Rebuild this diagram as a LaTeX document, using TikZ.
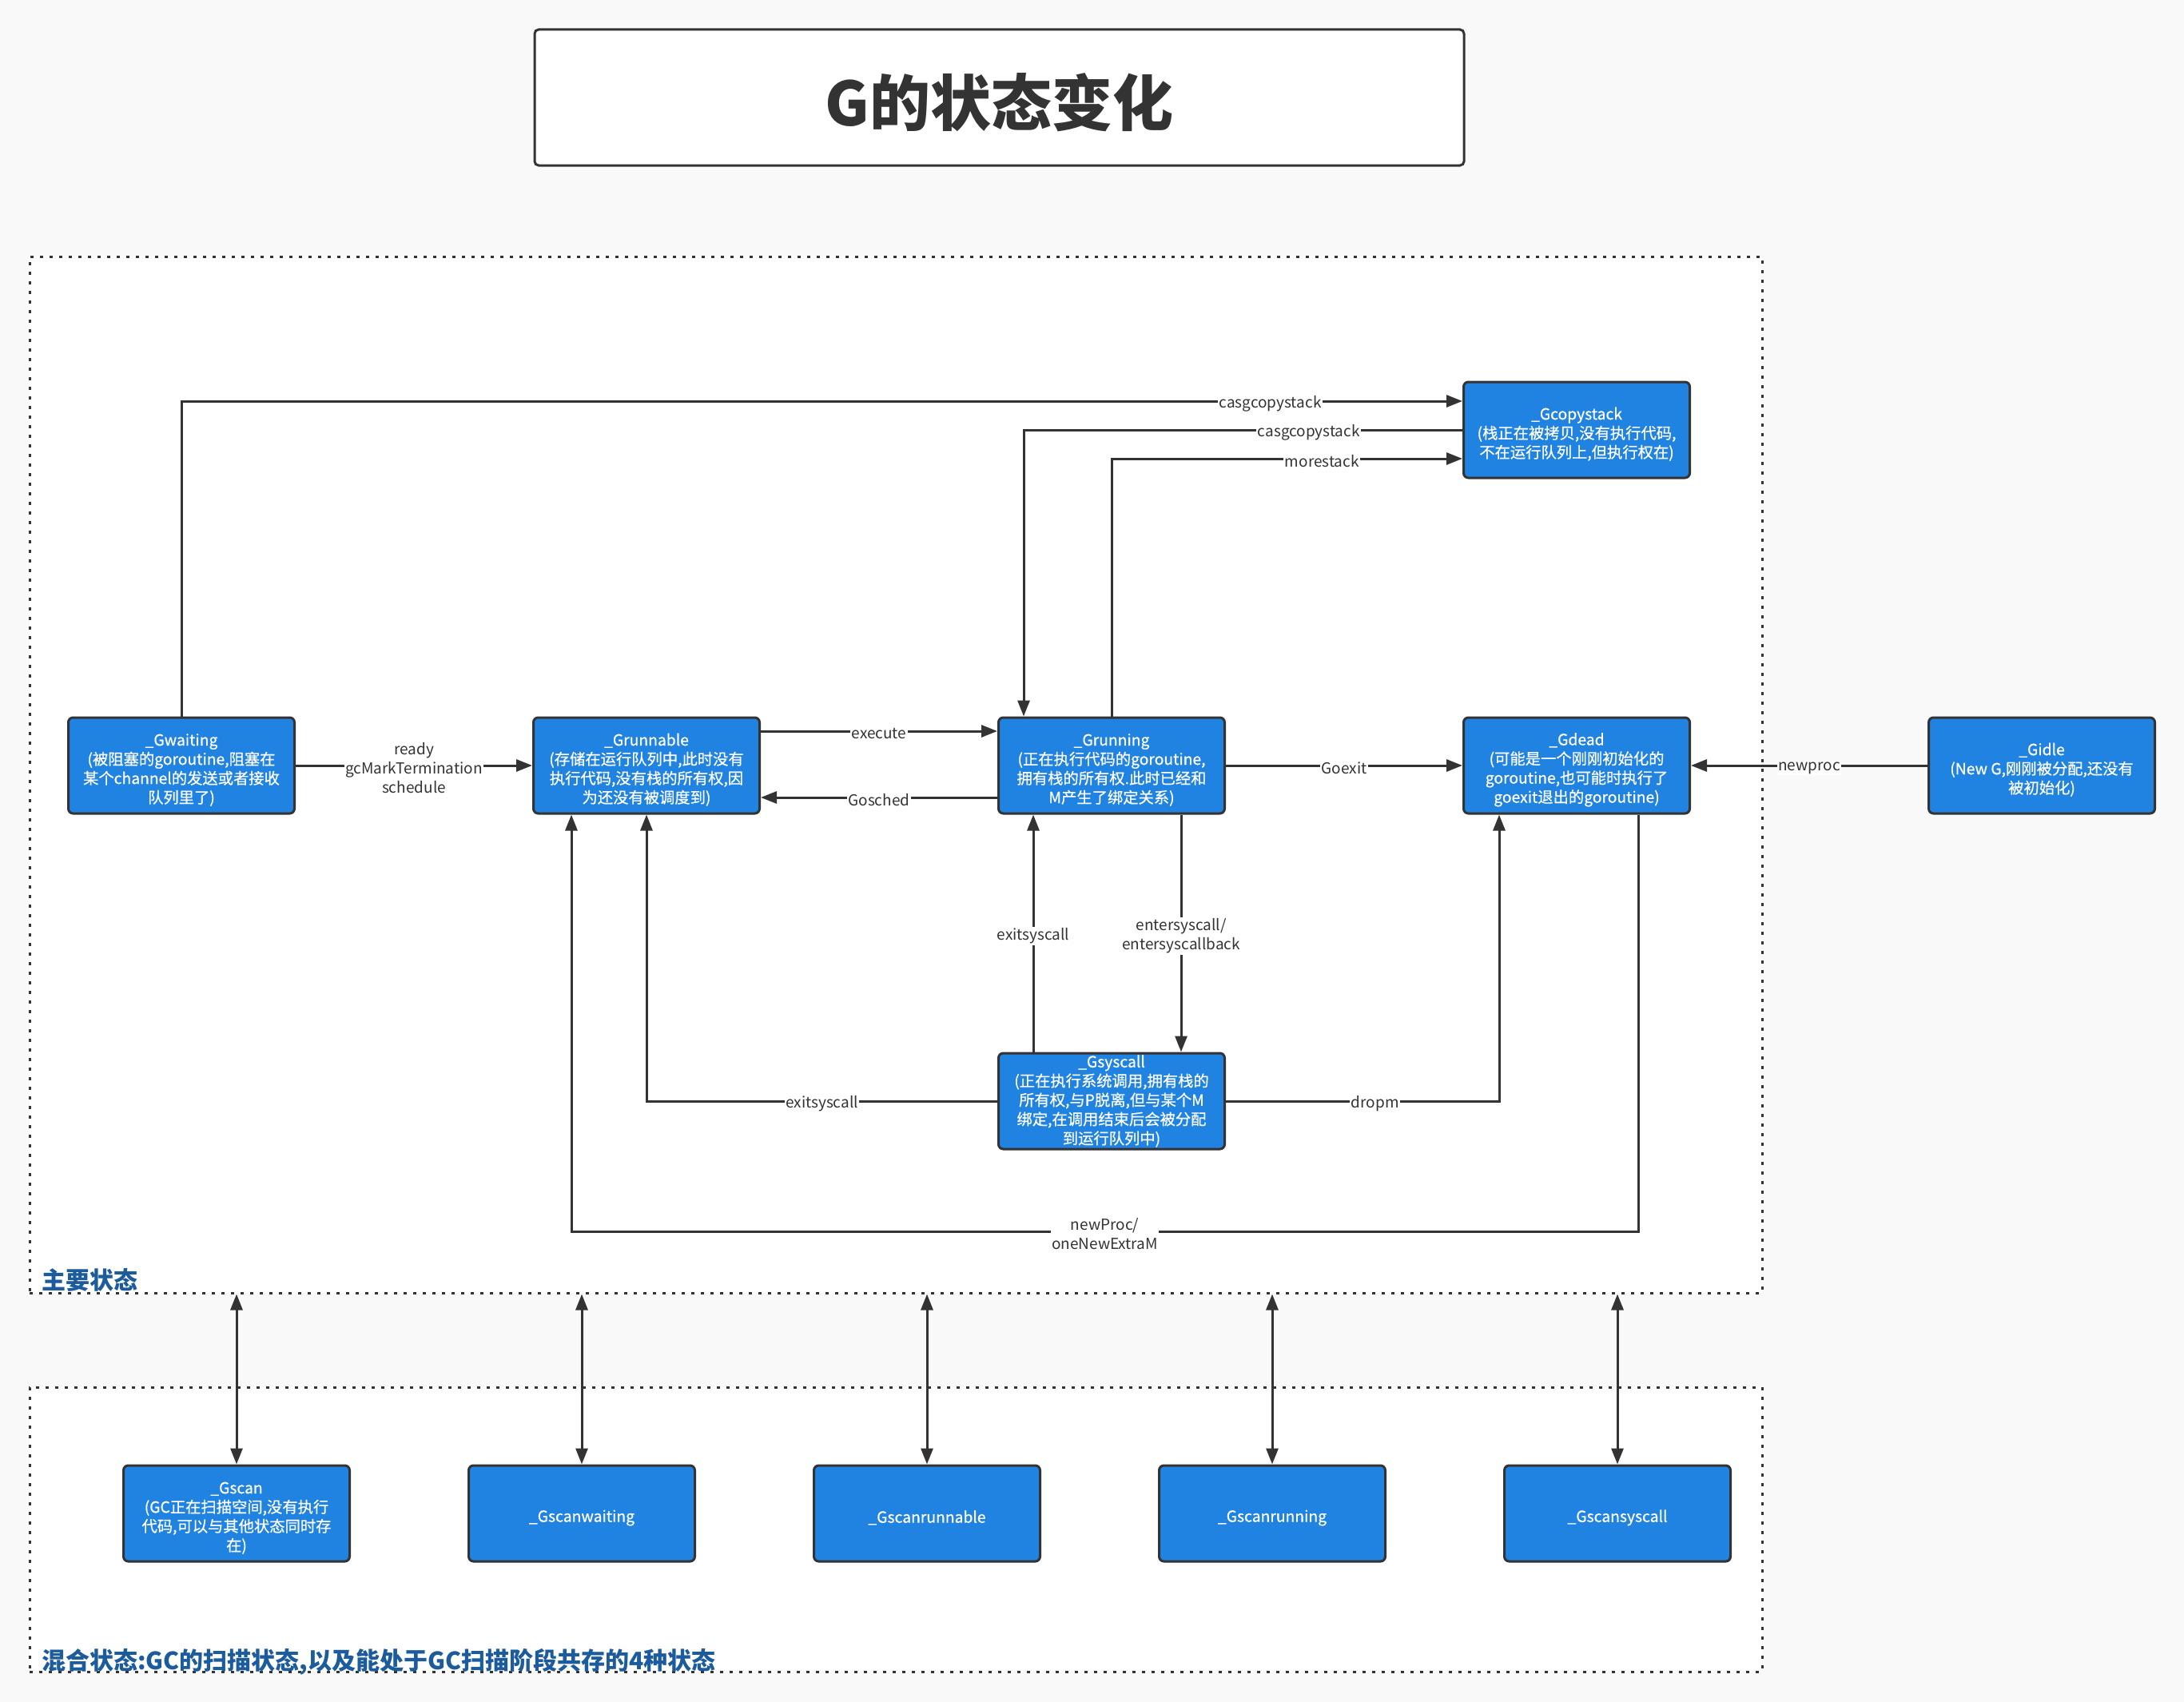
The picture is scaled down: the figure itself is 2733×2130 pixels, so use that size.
\documentclass[tikz,border=0pt]{standalone}
\usepackage{fontspec}
\setmainfont{Noto Sans CJK SC}
\newfontfamily\nodefont{Noto Sans CJK SC}[FakeBold=0.6]
\usetikzlibrary{arrows.meta}
\newcommand{\fstrut}{\rule{0pt}{26pt}}
\definecolor{bgc}{RGB}{249,249,249}
\definecolor{nodeblue}{RGB}{32,131,226}
\definecolor{bordc}{RGB}{51,51,51}
\definecolor{textc}{RGB}{51,51,51}
\definecolor{secblue}{RGB}{29,92,156}
\tikzset{
  state/.style={draw=bordc, line width=3pt, fill=nodeblue, rounded corners=6pt,
    minimum width=283pt, minimum height=120pt, text=white, align=center,
    font=\nodefont\fontsize{19.3}{24}\selectfont, inner sep=0pt},
  container/.style={draw=bordc, fill=white, line width=3pt, dash pattern=on 4pt off 8pt, inner sep=0pt},
  lab/.style={fill=white, text=textc, font=\fontsize{19}{24}\selectfont, inner sep=1.5pt, align=center, yshift=-3.5pt},
  arr/.style={draw=bordc, line width=3pt, -{Triangle[length=20pt,width=15pt]}},
  darr/.style={draw=bordc, line width=3pt, {Triangle[length=20pt,width=15pt]}-{Triangle[length=20pt,width=15pt]}},
  seclab/.style={text=secblue, font=\fontsize{30}{34}\selectfont\bfseries, inner sep=0pt},
  titlebox/.style={draw=bordc, fill=white, line width=3pt, rounded corners=5pt,
    minimum width=1163pt, minimum height=170pt, text=textc, font=\fontsize{76}{90}\selectfont\bfseries}
}
\begin{document}
\begin{tikzpicture}[x=1pt,y=-1pt]
\fill[bgc] (0,0) rectangle (2733,2130);
\useasboundingbox (0,0) rectangle (2733,2130);
% containers
\node[container, minimum width=2168pt, minimum height=1297pt] (main) at (1121,969.5) {};
\node[container, minimum width=2168pt, minimum height=356pt] (mixed) at (1121,1914) {};
% title
\node[titlebox] (title) at (1250.5,122) {\rule{0pt}{78pt}G的状态变化};
% section labels
\node[seclab, anchor=base west] (lab1) at (52,1613) {主要状态};
\node[seclab, anchor=base west] (lab2) at (52,2089) {混合状态:GC的扫描状态,以及能处于GC扫描阶段共存的4种状态};
% states
\node[state] (gwaiting) at (227,958) {\fstrut\_Gwaiting\\(被阻塞的goroutine,阻塞在\\某个channel的发送或者接收\\队列里了)};
\node[state] (grunnable) at (809,958) {\fstrut\_Grunnable\\(存储在运行队列中,此时没有\\执行代码,没有栈的所有权,因\\为还没有被调度到)};
\node[state] (grunning) at (1391,958) {\fstrut\_Grunning\\(正在执行代码的goroutine,\\拥有栈的所有权.此时已经和\\M产生了绑定关系)};
\node[state] (gdead) at (1973,958) {\fstrut\_Gdead\\(可能是一个刚刚初始化的\\goroutine,也可能时执行了\\goexit退出的goroutine)};
\node[state] (gidle) at (2555,958) {\fstrut\_Gidle\\(New G,刚刚被分配,还没有\\被初始化)};
\node[state] (gcopystack) at (1973,538) {\fstrut\_Gcopystack\\(栈正在被拷贝,没有执行代码,\\不在运行队列上,但执行权在)};
\node[state] (gsyscall) at (1391,1378) {\_Gsyscall\\(正在执行系统调用,拥有栈的\\所有权,与P脱离,但与某个M\\绑定,在调用结束后会被分配\\到运行队列中)};
% scan states
\node[state] (gscan) at (296,1894) {\fstrut\_Gscan\\(GC正在扫描空间,没有执行\\代码,可以与其他状态同时存\\在)};
\node[state] (gscanwaiting) at (728,1894) {\fstrut\_Gscanwaiting};
\node[state] (gscanrunnable) at (1160,1894) {\fstrut\_Gscanrunnable};
\node[state] (gscanrunning) at (1592,1894) {\fstrut\_Gscanrunning};
\node[state] (gscansyscall) at (2024,1894) {\fstrut\_Gscansyscall};
% connectors
\draw[arr] (gwaiting.north) |- node[lab, pos=0.925] {casgcopystack} ([yshift=36pt]gcopystack.west);
\draw[arr] (gcopystack.west) -| node[lab, pos=0.175] {casgcopystack} ([xshift=-110pt]grunning.north);
\draw[arr] (grunning.north) |- node[lab, pos=0.80] {morestack} ([yshift=-36pt]gcopystack.west);
\draw[arr] (gwaiting.east) -- node[lab] {ready\\gcMarkTermination\\schedule} (grunnable.west);
\draw[arr] ([yshift=43pt]grunnable.east) -- node[lab] {execute} ([yshift=43pt]grunning.west);
\draw[arr] ([yshift=-40pt]grunning.west) -- node[lab] {Gosched} ([yshift=-40pt]grunnable.east);
\draw[arr] (grunning.east) -- node[lab] {Goexit} (gdead.west);
\draw[arr] (gidle.west) -- node[lab] {newproc} (gdead.east);
\draw[arr] ([xshift=87pt]grunning.south) -- node[lab] {entersyscall/\\entersyscallback} ([xshift=87pt]gsyscall.north);
\draw[arr] ([xshift=-98pt]gsyscall.north) -- node[lab] {exitsyscall} ([xshift=-98pt]grunning.south);
\draw[arr] (gsyscall.west) -| node[lab, pos=0.25] {exitsyscall} (grunnable.south);
\draw[arr] (gsyscall.east) -| node[lab, pos=0.273] {dropm} ([xshift=-97pt]gdead.south);
\coordinate (np) at (2050,1541);
\draw[arr] ([xshift=77pt]gdead.south) -- (np) -| node[lab, pos=0.25] {newProc/\\oneNewExtraM} ([xshift=-94pt]grunnable.south);
% mixed-state links
\draw[darr] (main.south -| gscan.north) -- (gscan.north);
\draw[darr] (main.south -| gscanwaiting.north) -- (gscanwaiting.north);
\draw[darr] (main.south -| gscanrunnable.north) -- (gscanrunnable.north);
\draw[darr] (main.south -| gscanrunning.north) -- (gscanrunning.north);
\draw[darr] (main.south -| gscansyscall.north) -- (gscansyscall.north);
\end{tikzpicture}
\end{document}
